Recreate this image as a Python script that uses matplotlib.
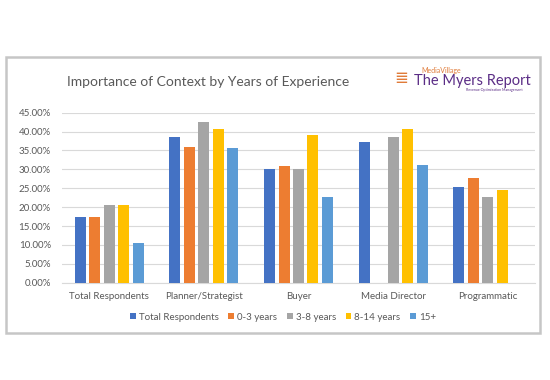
import numpy as np
import matplotlib.pyplot as plt
from matplotlib.patches import Rectangle
from matplotlib.ticker import PercentFormatter

# data
categories = ["Total Respondents", "Planner/Strategist", "Buyer", "Media Director", "Programmatic"]
series_names = ["Total Respondents", "0-3 years", "3-8 years", "8-14 years", "15+"]
total_resp = [17.5, 38.7, 30.2, 37.2, 25.4]
years_0_3 = [17.5, 36.0, 31.0, np.nan, 27.7]
years_3_8 = [20.7, 42.6, 30.2, 38.6, 22.6]
years_8_14 = [20.5, 40.7, 39.2, 40.8, 24.5]
years_15p = [10.4, 35.6, 22.6, 31.2, np.nan]
colors = ['#4472C4', '#ED7D31', '#A5A5A5', '#FFC000', '#5B9BD5']

plt.rcParams['font.family'] = ['Lato', 'DejaVu Sans']

fig = plt.figure(figsize=(5.5, 3.8), dpi=100)
# chart frame
fig.patches.append(Rectangle((6 / 550, 1 - 333 / 380), 534 / 550, 276 / 380,
                             transform=fig.transFigure, fill=False,
                             edgecolor='#c6c6c6', linewidth=1.8))

ax = fig.add_axes([62 / 550, 1 - 282.7 / 380, 473 / 550, 170 / 380])

all_series = [total_resp, years_0_3, years_3_8, years_8_14, years_15p]
X = np.arange(len(categories))
step = 0.153
w = 0.116
for i, (vals, name) in enumerate(zip(all_series, series_names)):
    v = np.array(vals, dtype=float) / 100
    ax.bar(X + (i - 2) * step, np.nan_to_num(v), width=w, color=colors[i], label=name, zorder=3)

ax.set_xlim(-0.5, len(categories) - 0.5)
ax.set_ylim(0, 0.45)
ax.set_yticks(np.arange(0, 0.451, 0.05))
ax.yaxis.set_major_formatter(PercentFormatter(1.0, decimals=2))
ax.set_xticks(X)
ax.set_xticklabels(categories)
ax.tick_params(axis='both', length=0, labelsize=7, colors='#595959')
ax.tick_params(axis='y', pad=8)
ax.tick_params(axis='x', pad=7)
ax.grid(axis='y', color='#d9d9d9', linewidth=0.8, zorder=0)
for s in ['top', 'right', 'left']:
    ax.spines[s].set_visible(False)
ax.spines['bottom'].set_color('#d9d9d9')

leg = fig.legend(loc='center', bbox_to_anchor=(283 / 550, 1 - 317 / 380), ncol=5,
                 frameon=False, fontsize=7, handlelength=0.6, handleheight=0.6,
                 handletextpad=0.3, columnspacing=1.0)
for t in leg.get_texts():
    t.set_color('#595959')

fig.text(67 / 550, 1 - 82 / 380, "Importance of Context by Years of Experience",
         fontsize=10, color='#595959', va='center', ha='left')

# logo (text only, icon approximated)
fig.text(441 / 550, 1 - 70.5 / 380, "MediaVillage", fontsize=5, color='#e07b39',
         ha='center', va='center')
fig.text(472 / 550, 1 - 81 / 380, "The Myers Report", fontsize=10.5, color='#5b2d86',
         ha='center', va='center')
fig.text(494 / 550, 1 - 89.5 / 380, "Revenue Optimization Management", fontsize=2.6,
         color='#5b2d86', ha='center', va='center')
fig.text(401 / 550, 1 - 78 / 380, "\u2263", fontsize=12, color='#e07b39',
         ha='center', va='center')

plt.savefig('out.png', dpi=100)
